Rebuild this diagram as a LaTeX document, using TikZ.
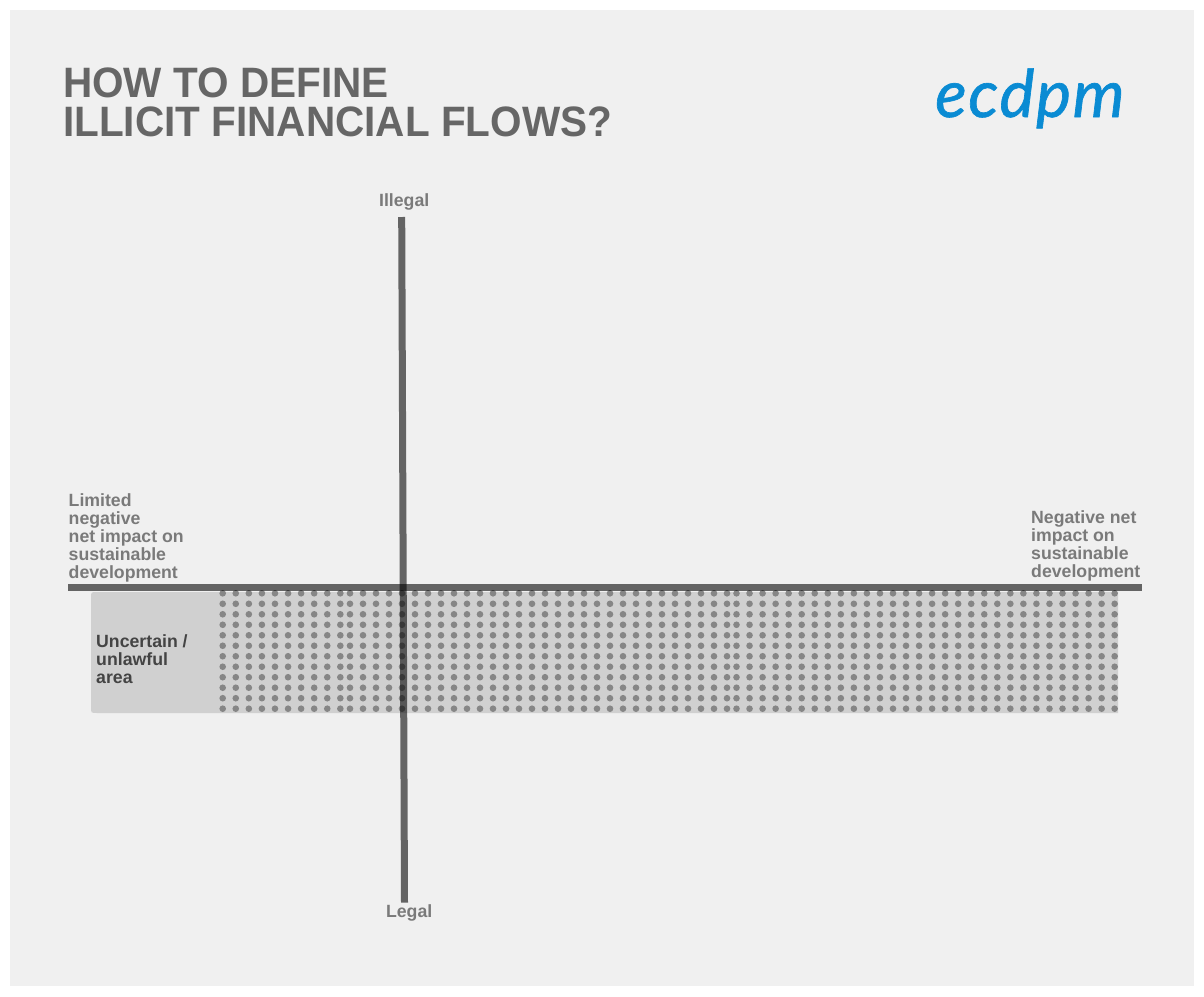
\documentclass[tikz,border=0pt]{standalone}
\usepackage{fontspec}
\setmainfont{Liberation Sans}
\newfontfamily\logofont{Lato}[LetterSpace=2.5,FakeBold=1]
\definecolor{bgc}{HTML}{F0F0F0}
\definecolor{shadec}{HTML}{D0D0D0}
\definecolor{dotc}{HTML}{868686}
\definecolor{titlec}{HTML}{666666}
\definecolor{labelc}{HTML}{7A7A7A}
\definecolor{darklabel}{HTML}{444444}
\definecolor{logoc}{HTML}{0A8BD3}
\tikzset{
  titletext/.style={inner sep=0pt, text=titlec, font=\fontsize{40.5}{40}\selectfont\bfseries},
  lab/.style={inner sep=0pt, text=labelc, align=left, font=\fontsize{17.7}{18}\selectfont\bfseries},
  darklab/.style={lab, text=darklabel},
  axisline/.style={draw=black, draw opacity=0.58, line width=7pt},
  dotfill/.style={fill=dotc},
}
\begin{document}
\begin{tikzpicture}[x=1pt,y=-1pt]
\useasboundingbox (0,0) rectangle (1204,996);
\fill[white] (0,0) rectangle (1204,996);
\fill[bgc] (10,10) rectangle (1194,986);
% title
\node[titletext, anchor=base west] (title1) at (63,97) {\scalebox{1}[1.05]{HOW TO DEFINE}};
\node[titletext, anchor=base west] (title2) at (63,136) {\scalebox{1}[1.05]{ILLICIT FINANCIAL FLOWS?}};
% logo
\node[inner sep=0pt, anchor=base west, text=logoc, font=\logofont\itshape\fontsize{66}{66}\selectfont] (logo) at (935,117) {ecdpm};
% shaded area
\fill[shadec] (1118,592) -- (97,592) .. controls (91,592) .. (91,598) -- (91,707) .. controls (91,713) .. (97,713) -- (1118,713) -- cycle;
% dots
\foreach \r in {0,...,11} {
  \foreach \c in {0,...,9}  \fill[dotfill] (222.7+13.07*\c, 593.3+10.49*\r) circle[radius=3.3pt];
  \foreach \c in {0,...,29} \fill[dotfill] (350+13.0*\c, 593.3+10.49*\r) circle[radius=3.3pt];
  \foreach \c in {0,...,29} \fill[dotfill] (736.5+13.04*\c, 593.3+10.49*\r) circle[radius=3.3pt];
}
% axes
\coordinate (hl) at (68,587.3);
\coordinate (hr) at (1142,587.3);
\coordinate (vt) at (401.7,217);
\coordinate (vb) at (404.5,902.7);
\draw[axisline, line width=6.7pt] (hl) -- (hr);
\draw[axisline] (vt) -- (vb);
% labels
\node[lab, anchor=base] (illegal) at (404.2,206.7) {Illegal};
\node[lab, anchor=base] (legal) at (409.2,917.7) {Legal};
\node[lab, anchor=north west] (leftlab) at (68.5,493.3) {Limited\\negative\\net impact on\\sustainable\\development};
\node[lab, anchor=north west] (rightlab) at (1031,510.7) {Negative net\\impact on\\sustainable\\development};
\node[darklab, anchor=north west] (area) at (96,634) {Uncertain /\\unlawful\\area};
\end{tikzpicture}
\end{document}
